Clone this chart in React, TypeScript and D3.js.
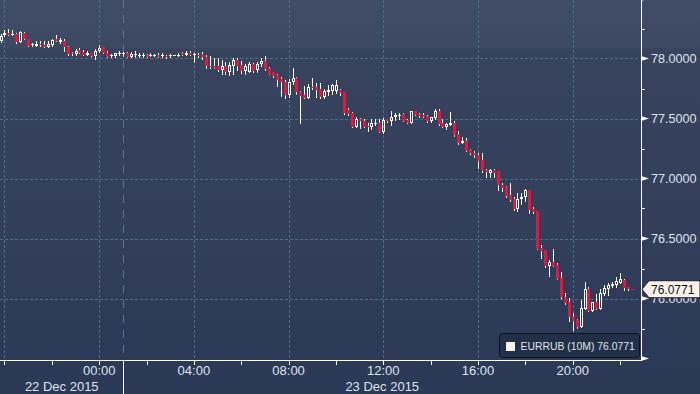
import React from 'react';
import * as d3 from 'd3';

const W = 700;
const H = 394;
const PLOT_R = 641;
const PLOT_B = 360;

// 10-minute bars, first bar 22 Dec 2015 19:50 (UTC grid)
const FIRST_BAR = Date.UTC(2015, 11, 22, 19, 50);
const BAR_MINUTES = 10;
const DAY_SPLIT = Date.UTC(2015, 11, 23, 1, 0);

const opens = [
  78.146, 78.193, 78.210, 78.196, 78.204, 78.138, 78.215, 78.165, 78.110, 78.104,
  78.121, 78.115, 78.098, 78.110, 78.160, 78.138, 78.148, 78.098, 78.043, 78.038,
  78.071, 78.054, 78.032, 78.043, 78.021, 78.065, 78.093, 78.043, 78.021, 78.021,
  78.038, 78.038, 78.043, 78.015, 78.029, 78.021, 78.021, 78.032, 78.021, 78.021,
  78.032, 78.021, 78.021, 78.021, 78.027, 78.021, 78.048, 78.027, 78.043, 78.027,
  78.032, 78.038, 78.015, 77.935, 77.935, 77.935, 77.902, 77.940, 77.890, 77.940,
  77.990, 77.946, 77.896, 77.890, 77.952, 77.902, 77.952, 77.979, 77.918, 77.885,
  77.863, 77.829, 77.807, 77.696, 77.802, 77.835, 77.718, 77.696, 77.673, 77.763,
  77.760, 77.748, 77.677, 77.721, 77.732, 77.727, 77.738, 77.721, 77.571, 77.548,
  77.432, 77.498, 77.482, 77.438, 77.432, 77.454, 77.465, 77.388, 77.493, 77.477,
  77.515, 77.521, 77.538, 77.488, 77.465, 77.560, 77.538, 77.532, 77.521, 77.477,
  77.504, 77.565, 77.465, 77.432, 77.448, 77.465, 77.365, 77.298, 77.315, 77.238,
  77.215, 77.198, 77.154, 77.071, 77.048, 77.071, 77.060, 76.943, 76.932, 76.860,
  76.832, 76.743, 76.827, 76.843, 76.904, 76.748, 76.727, 76.421, 76.404, 76.271,
  76.304, 76.277, 76.171, 76.010, 75.971, 75.843, 75.821, 75.765, 75.915, 76.077,
  75.898, 75.971, 75.915, 76.038, 76.082, 76.104, 76.110, 76.132, 76.154, 76.093,
  76.079,
];
const highs = [
  78.204, 78.238, 78.243, 78.238, 78.213, 78.227, 78.223, 78.165, 78.132, 78.143,
  78.143, 78.143, 78.143, 78.165, 78.193, 78.171, 78.165, 78.104, 78.054, 78.077,
  78.088, 78.071, 78.065, 78.043, 78.082, 78.110, 78.098, 78.060, 78.038, 78.048,
  78.060, 78.054, 78.054, 78.054, 78.060, 78.043, 78.043, 78.038, 78.043, 78.038,
  78.043, 78.043, 78.027, 78.038, 78.032, 78.043, 78.054, 78.060, 78.060, 78.048,
  78.043, 78.054, 78.027, 78.021, 78.007, 78.002, 77.990, 77.973, 77.968, 78.002,
  78.002, 77.979, 77.957, 77.968, 77.963, 77.973, 78.002, 78.018, 77.929, 77.890,
  77.873, 77.846, 77.823, 77.829, 77.918, 77.846, 77.729, 77.768, 77.785, 77.835,
  77.793, 77.793, 77.743, 77.777, 77.788, 77.821, 77.743, 77.721, 77.588, 77.554,
  77.510, 77.504, 77.493, 77.460, 77.493, 77.493, 77.493, 77.504, 77.498, 77.560,
  77.543, 77.548, 77.543, 77.498, 77.565, 77.565, 77.548, 77.543, 77.527, 77.515,
  77.577, 77.577, 77.498, 77.465, 77.554, 77.477, 77.393, 77.348, 77.338, 77.248,
  77.232, 77.210, 77.215, 77.082, 77.082, 77.077, 77.065, 76.960, 76.938, 76.960,
  76.843, 76.882, 76.877, 76.910, 76.904, 76.765, 76.727, 76.448, 76.404, 76.321,
  76.410, 76.298, 76.221, 76.043, 76.004, 75.882, 75.827, 75.988, 76.138, 76.093,
  75.971, 76.038, 76.082, 76.110, 76.132, 76.138, 76.182, 76.215, 76.160, 76.098,
  76.079,
];
const lows = [
  78.138, 78.190, 78.196, 78.192, 78.129, 78.135, 78.160, 78.104, 78.104, 78.102,
  78.104, 78.093, 78.096, 78.104, 78.143, 78.132, 78.065, 78.027, 78.032, 78.032,
  78.043, 78.027, 78.027, 78.021, 77.993, 78.054, 78.043, 78.010, 78.015, 78.015,
  78.032, 78.021, 78.010, 78.010, 78.010, 78.010, 78.010, 78.015, 78.021, 78.021,
  78.010, 78.010, 78.004, 78.015, 78.027, 78.021, 78.027, 78.027, 78.027, 77.971,
  78.015, 77.993, 77.921, 77.918, 77.918, 77.896, 77.873, 77.873, 77.863, 77.873,
  77.907, 77.879, 77.873, 77.885, 77.885, 77.890, 77.940, 77.907, 77.868, 77.846,
  77.768, 77.690, 77.673, 77.679, 77.785, 77.707, 77.463, 77.673, 77.668, 77.746,
  77.682, 77.671, 77.671, 77.698, 77.704, 77.710, 77.693, 77.538, 77.532, 77.427,
  77.427, 77.421, 77.427, 77.393, 77.415, 77.448, 77.388, 77.382, 77.471, 77.443,
  77.488, 77.493, 77.477, 77.465, 77.460, 77.527, 77.515, 77.510, 77.471, 77.471,
  77.498, 77.448, 77.427, 77.410, 77.448, 77.354, 77.288, 77.293, 77.227, 77.204,
  77.177, 77.088, 77.054, 77.015, 77.010, 77.015, 76.904, 76.893, 76.848, 76.815,
  76.738, 76.732, 76.788, 76.815, 76.715, 76.715, 76.415, 76.338, 76.265, 76.188,
  76.271, 76.160, 76.004, 75.954, 75.810, 75.738, 75.754, 75.760, 75.910, 75.898,
  75.893, 75.910, 75.910, 76.032, 76.027, 76.098, 76.093, 76.127, 76.071, 76.071,
  76.077,
];
const closes = [
  78.188, 78.210, 78.196, 78.204, 78.138, 78.221, 78.163, 78.104, 78.121, 78.121,
  78.110, 78.098, 78.121, 78.154, 78.143, 78.154, 78.098, 78.038, 78.038, 78.065,
  78.048, 78.032, 78.048, 78.021, 78.065, 78.088, 78.043, 78.010, 78.032, 78.043,
  78.048, 78.042, 78.010, 78.038, 78.038, 78.032, 78.032, 78.015, 78.032, 78.032,
  78.010, 78.032, 78.015, 78.032, 78.032, 78.032, 78.027, 78.048, 78.027, 78.038,
  78.021, 78.010, 77.938, 77.927, 77.918, 77.902, 77.935, 77.890, 77.946, 77.985,
  77.940, 77.896, 77.940, 77.952, 77.896, 77.957, 77.979, 77.913, 77.873, 77.857,
  77.823, 77.802, 77.696, 77.807, 77.835, 77.718, 77.690, 77.673, 77.763, 77.752,
  77.738, 77.677, 77.732, 77.738, 77.782, 77.782, 77.715, 77.543, 77.538, 77.432,
  77.493, 77.482, 77.432, 77.427, 77.465, 77.465, 77.388, 77.488, 77.477, 77.510,
  77.532, 77.532, 77.477, 77.465, 77.560, 77.532, 77.521, 77.515, 77.477, 77.510,
  77.565, 77.454, 77.432, 77.454, 77.465, 77.360, 77.298, 77.310, 77.232, 77.210,
  77.193, 77.143, 77.060, 77.054, 77.071, 77.048, 76.943, 76.921, 76.854, 76.821,
  76.743, 76.832, 76.848, 76.904, 76.738, 76.721, 76.415, 76.398, 76.271, 76.304,
  76.271, 76.165, 76.010, 75.965, 75.843, 75.815, 75.765, 75.921, 76.082, 75.898,
  75.971, 75.915, 76.043, 76.088, 76.110, 76.121, 76.143, 76.160, 76.088, 76.0771,
  76.0771,
];

const priceTicks = [78.5, 78.0, 77.5, 77.0, 76.5, 76.0, 75.5];
const priceGrid = [78.0, 77.5, 77.0, 76.5, 76.0];
const priceMinor = [78.25, 77.75, 77.25, 76.75, 76.25, 75.75];
const timeLabels = ['00:00', '04:00', '08:00', '12:00', '16:00', '20:00'];
const dateLabels = ['22 Dec 2015', '23 Dec 2015'];
const seriesName = 'EURRUB (10M)';
const lastPrice = 76.0771;

const FONT = "'Liberation Sans', Arial, sans-serif";
const RED = '#e2173d';
const TEXT = '#dfe5ec';
const GRID = '#4e6e86';

export default function App() {
  const x = d3
    .scaleUtc()
    .domain([new Date(Date.UTC(2015, 11, 22, 19, 48, 36)), new Date(Date.UTC(2015, 11, 23, 22, 53, 6))])
    .range([0, PLOT_R]);
  const y = d3.scaleLinear().domain([75.5, 78.5]).range([358.5, -1.5]);

  const bars = opens.map((o, i) => ({
    t: new Date(FIRST_BAR + i * BAR_MINUTES * 60000),
    o,
    h: highs[i],
    l: lows[i],
    c: closes[i],
  }));

  const ticks2h = x.ticks(d3.utcHour.every(2));
  const grid4h = x.ticks(d3.utcHour.every(4));
  const sepX = Math.round(x(new Date(DAY_SPLIT))) + 0.5;
  const fmt = d3.format('.4f');

  const labelTimes = timeLabels.map((s) => {
    const [hh, mm] = s.split(':').map(Number);
    return new Date(Date.UTC(2015, 11, 23, hh, mm));
  });
  const dateCenters = [sepX / 2, (sepX + PLOT_R) / 2];

  const lastY = y(lastPrice);

  return (
    <svg
      width={W}
      height={H}
      style={{ position: 'absolute', left: 0, top: 0, display: 'block' }}
      fontFamily={FONT}
    >
      <defs>
        <linearGradient id="bg" x1="0" y1="0" x2="0" y2="1">
          <stop offset="0" stopColor="#414d66" />
          <stop offset="0.12" stopColor="#3d4962" />
          <stop offset="0.125" stopColor="#38445e" />
          <stop offset="0.6" stopColor="#323e5a" />
          <stop offset="1" stopColor="#2b3856" />
        </linearGradient>
        <clipPath id="plot">
          <rect x={0} y={0} width={PLOT_R} height={PLOT_B} />
        </clipPath>
      </defs>
      <rect x={0} y={0} width={W} height={H} fill="url(#bg)" />

      {/* grid */}
      <g shapeRendering="crispEdges">
        {priceGrid.map((p) => (
          <line
            key={'hg' + p}
            x1={0}
            x2={PLOT_R}
            y1={Math.round(y(p)) + 0.5}
            y2={Math.round(y(p)) + 0.5}
            stroke={GRID}
            strokeDasharray="3,2"
          />
        ))}
        {grid4h.map((t) => (
          <line
            key={'vg' + t.getTime()}
            x1={Math.round(x(t)) + 0.5}
            x2={Math.round(x(t)) + 0.5}
            y1={0}
            y2={PLOT_B}
            stroke={GRID}
            strokeDasharray="3,2"
          />
        ))}
        <line x1={sepX} x2={sepX} y1={0} y2={PLOT_B} stroke="#5c7390" strokeDasharray="8,7" />
      </g>

      {/* candles */}
      <g clipPath="url(#plot)" shapeRendering="crispEdges">
        {bars.map((b, i) => {
          const cx = Math.round(x(b.t));
          const up = b.c >= b.o;
          const yTop = Math.round(y(Math.max(b.o, b.c)));
          const yBot = Math.round(y(Math.min(b.o, b.c)));
          const hBody = Math.max(1, yBot - yTop);
          const yH = Math.round(y(b.h));
          const yL = Math.round(y(b.l));
          if (!up) {
            return (
              <g key={i}>
                <line x1={cx + 0.5} x2={cx + 0.5} y1={yH} y2={yL + 1} stroke="#ffffff" />
                <rect x={cx - 1} y={yTop} width={3} height={hBody} fill={RED} />
              </g>
            );
          }
          if (hBody <= 2) {
            return (
              <g key={i}>
                <line x1={cx + 0.5} x2={cx + 0.5} y1={yH} y2={yL + 1} stroke="#ffffff" />
                <rect x={cx - 1} y={yTop} width={3} height={hBody} fill="#ffffff" />
              </g>
            );
          }
          return (
            <g key={i}>
              <line x1={cx + 0.5} x2={cx + 0.5} y1={yH} y2={yTop} stroke="#ffffff" />
              <line x1={cx + 0.5} x2={cx + 0.5} y1={yBot} y2={yL + 1} stroke="#ffffff" />
              <rect
                x={cx - 0.5}
                y={yTop + 0.5}
                width={2}
                height={hBody - 1}
                fill="none"
                stroke="#ffffff"
              />
            </g>
          );
        })}
      </g>

      {/* right axis */}
      <g shapeRendering="crispEdges">
        <line x1={PLOT_R + 0.5} x2={PLOT_R + 0.5} y1={0} y2={PLOT_B} stroke="#ffffff" />
        {priceMinor.map((p) => (
          <line
            key={'mn' + p}
            x1={PLOT_R}
            x2={PLOT_R + 4}
            y1={Math.round(y(p)) + 0.5}
            y2={Math.round(y(p)) + 0.5}
            stroke="#ffffff"
          />
        ))}
      </g>
      {priceTicks.map((p) => {
        const yy = y(p);
        return (
          <polygon
            key={'mj' + p}
            points={`${PLOT_R},${yy - 2.5} ${PLOT_R + 8},${yy} ${PLOT_R},${yy + 2.5}`}
            fill="#ffffff"
          />
        );
      })}
      {priceTicks
        .filter((p) => y(p) > 10 && y(p) < 340)
        .map((p) => (
          <text
            key={'pl' + p}
            x={651}
            y={y(p)}
            dy="0.36em"
            fontSize={12.6}
            fill={TEXT}
          >
            {fmt(p)}
          </text>
        ))}

      {/* bottom axis */}
      <g shapeRendering="crispEdges">
        <line x1={0} x2={PLOT_R + 1} y1={PLOT_B + 0.5} y2={PLOT_B + 0.5} stroke="#ffffff" />
        {ticks2h.map((t) => (
          <line
            key={'xt' + t.getTime()}
            x1={Math.round(x(t)) + 0.5}
            x2={Math.round(x(t)) + 0.5}
            y1={PLOT_B}
            y2={PLOT_B + 5}
            stroke="#ffffff"
          />
        ))}
        <line x1={sepX} x2={sepX} y1={PLOT_B} y2={H} stroke="#ffffff" />
      </g>
      {labelTimes.map((t, i) => (
        <text
          key={'tl' + i}
          x={x(t)}
          y={375}
          textAnchor="middle"
          fontSize={13}
          fill={TEXT}
        >
          {timeLabels[i]}
        </text>
      ))}
      {dateLabels.map((d, i) => (
        <text key={'dl' + i} x={dateCenters[i]} y={391} textAnchor="middle" fontSize={13} fill={TEXT}>
          {d}
        </text>
      ))}

      {/* legend */}
      <rect x={499.5} y={333.5} width={140} height={24} rx={3} fill="#232e47" stroke="#0c1220" />
      <rect x={506} y={342} width={9} height={9} fill="#fdf1ec" />
      <text x={520.5} y={350} fontSize={10.4} fill={TEXT}>
        {seriesName} {fmt(lastPrice)}
      </text>

      {/* last price label */}
      <path
        d={`M${PLOT_R + 1},${lastY} L${PLOT_R + 8},${lastY - 8.5} L${W},${lastY - 8.5} L${W},${lastY + 8.5} L${PLOT_R + 8},${lastY + 8.5} Z`}
        fill="#fdf2e9"
        stroke="#1a1f2b"
      />
      <text x={651} y={lastY} dy="0.36em" fontSize={12} fill="#111111">
        {fmt(lastPrice)}
      </text>
    </svg>
  );
}
